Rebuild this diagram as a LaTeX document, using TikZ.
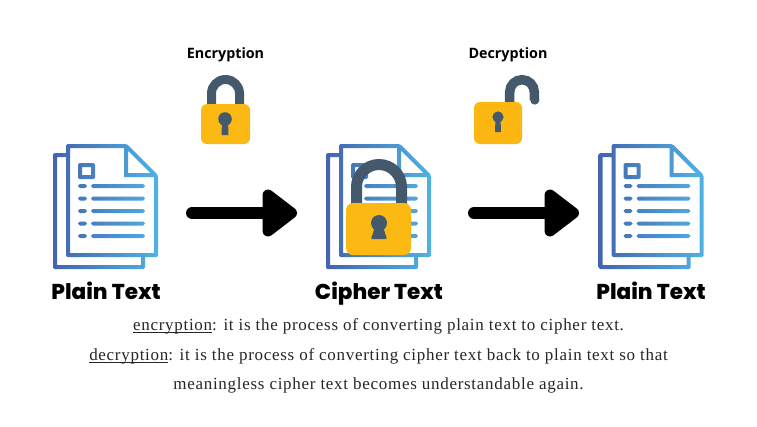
\documentclass[tikz,border=0pt]{standalone}
\usepackage{fontspec}
\usetikzlibrary{calc}
\setmainfont{Liberation Serif}[LetterSpace=4.2]
\newfontfamily\capfont{Poppins}[UprightFont=* ExtraBold,BoldFont=* ExtraBold]
\newfontfamily\headfont{Open Sans}[UprightFont=* Bold]
\definecolor{docL}{HTML}{4464AE}
\definecolor{docR}{HTML}{50B2E4}
\definecolor{lockY}{HTML}{FDB913}
\definecolor{lockS}{HTML}{44596B}
\newcommand{\ulword}[1]{\setbox0=\hbox{#1}\rlap{\rule[-2.6pt]{\wd0}{0.8pt}}\box0}
\tikzset{
  x=1pt,y=-1pt,
  doctitle/.style={font=\capfont\fontsize{21.5}{24}\selectfont,text=black,inner sep=0pt,anchor=base},
  headlabel/.style={font=\headfont\fontsize{14.3}{16}\selectfont,text=black,inner sep=0pt,anchor=base},
  bodytext/.style={font=\fontsize{17}{20}\selectfont,text=black!85,inner sep=0pt,anchor=base},
  docshade/.style={left color=docL,right color=docR,even odd rule,draw=none},
  flowshaft/.style={line width=12pt,draw=black,line cap=round},
  flowhead/.style={fill=black,draw=black,line width=11pt,line join=round},
  lockbody/.style={fill=lockY,rounded corners=6pt,draw=none},
  shackle/.style={draw=lockS,line cap=butt,fill=none},
  keyhole/.style={fill=lockS,draw=none},
}
\newcommand{\docicon}[1]{%
  \shade[docshade,shift={(#1,0)}]
    % back page
    (54.5,153) -- (66,153) -- (66,157) -- (57,157) -- (57,265) -- (141,265) -- (141,257) -- (145,257) -- (145,267.5) -- (143.5,269) -- (54.5,269) -- (53,267.5) -- (53,154.5) -- cycle
    % front page outer, inner, fold
    [rounded corners=1.5pt]
    (66,144) -- (127,144) -- (158,175) -- (158,257) -- (66,257) -- cycle
    [sharp corners] (70,148) -- (124,148) -- (124,177) -- (154,177) -- (154,253) -- (70,253) -- cycle
    (128,150.7) -- (128,173) -- (150.3,173) -- cycle
    % small box
    [rounded corners=1.5pt] (78,163) -- (95,163) -- (95,179) -- (78,179) -- cycle
    [sharp corners] (82,167) -- (91,167) -- (91,175) -- (82,175) -- cycle
    % text lines
    [rounded corners=1.8pt]
    (78,184) rectangle (87,188) (91,184) rectangle (145,188)
    (78,196.5) rectangle (87,200.5) (91,196.5) rectangle (145,200.5)
    (78,209) rectangle (87,213) (91,209) rectangle (145,213)
    (78,221.5) rectangle (87,225.5) (91,221.5) rectangle (145,225.5)
    (78,234) rectangle (87,238) (91,234) rectangle (145,238);
}
\begin{document}
\begin{tikzpicture}
\useasboundingbox (0,0) rectangle (757,426);
\fill[white] (0,0) rectangle (757,426);
\docicon{0}
\docicon{273}
\docicon{545.5}
% arrows
\coordinate (a1s) at (192,213); \coordinate (a1h) at (268,213);
\coordinate (a2s) at (474,213); \coordinate (a2h) at (550,213);
\draw[flowshaft] (a1s) -- (a1h);
\draw[flowshaft] (a2s) -- (a2h);
\filldraw[flowhead] (a1h) ++(0,-18) -- ++(23.5,18) -- ++(-23.5,18) -- cycle;
\filldraw[flowhead] (a2h) ++(0,-18) -- ++(23.5,18) -- ++(-23.5,18) -- cycle;
% closed small lock
\draw[shackle,line width=9pt] (211.5,106) -- (211.5,93.5) arc[start angle=180,end angle=360,radius=14] -- (239.5,106);
\fill[lockbody] (201,104) rectangle (250,144);
\fill[keyhole] (225,119) circle (6.8);
\fill[keyhole] (222,120) -- (228,120) -- (228.5,135) -- (221.5,135) -- cycle;
% open small lock
\draw[shackle,line width=9.5pt] (509.7,104) -- (509.7,92) arc[start angle=180,end angle=360,radius=12.3] -- (534.3,100);
\fill[lockS] (534.8,100) circle (4.6);
\fill[lockbody,fill=lockY!96!orange] (474,102) rectangle (522,144);
\fill[keyhole] (498,117) circle (5.6);
\fill[keyhole] (495.5,118) -- (500.5,118) -- (501,132) -- (495,132) -- cycle;
% big lock
\draw[shackle,line width=11pt] (356.5,206) -- (356.5,187) arc[start angle=180,end angle=360,radius=22.5] -- (401.5,206);
\fill[lockbody,rounded corners=7pt] (346,203) rectangle (411,255);
\fill[keyhole] (379,223) circle (8);
\fill[keyhole,rounded corners=1pt] (375.5,225) -- (382.5,225) -- (387,239) -- (371,239) -- cycle;
% labels
\node[headlabel] (enc) at (225.5,58) {Encryption};
\node[headlabel] (dec) at (508,58) {Decryption};
\node[doctitle] (p1) at (106,299) {Plain Text};
\node[doctitle] (c1) at (379,299) {Cipher Text};
\node[doctitle] (p2) at (651,299) {Plain Text};
\node[bodytext] (l1) at (378.5,330) {\ulword{encryption}: it is the process of converting plain text to cipher text.};
\node[bodytext] (l2) at (378.5,360) {\ulword{decryption}: it is the process of converting cipher text back to plain text so that};
\node[bodytext] (l3) at (378.5,389) {meaningless cipher text becomes understandable again.};
\end{tikzpicture}
\end{document}
